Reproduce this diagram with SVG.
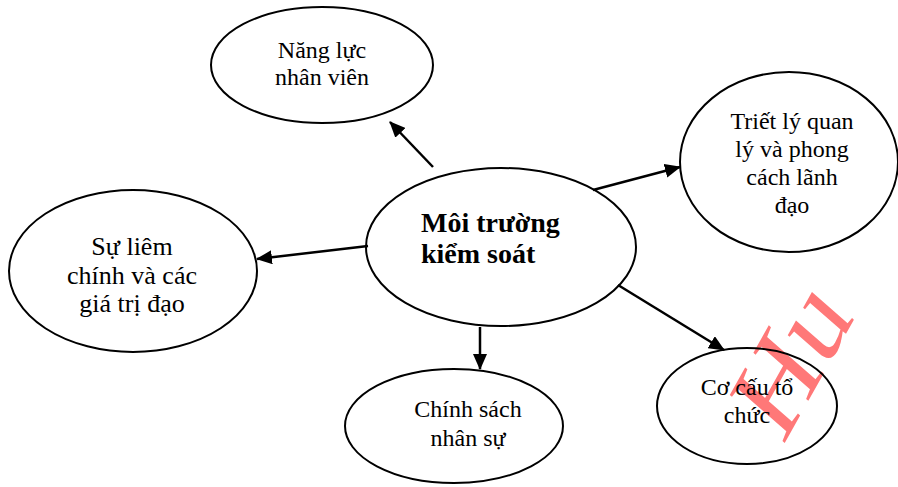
<svg xmlns="http://www.w3.org/2000/svg" width="898" height="487" viewBox="0 0 898 487">
  <style>
    .node ellipse { fill: none; stroke: #000000; stroke-width: 2; }
    .label { font-family: "Liberation Serif", "Times New Roman", serif; font-size: 24px; fill: #000000; text-anchor: middle; }
    .title { font-family: "Liberation Serif", "Times New Roman", serif; font-size: 28px; font-weight: bold; fill: #000000; }
    .edge { stroke: #000000; stroke-width: 2.5; fill: none; marker-end: url(#head); }
    .mark { font-family: "Liberation Serif", "Times New Roman", serif; font-size: 128px; fill: #ff7878; }
  </style>
  <defs>
    <marker id="head" viewBox="0 0 16 14" refX="15" refY="7" markerWidth="16" markerHeight="14" markerUnits="userSpaceOnUse" orient="auto">
      <path d="M0,0 L16,7 L0,14 Z" fill="#000000"/>
    </marker>
  </defs>
  <rect width="898" height="487" fill="#ffffff"/>

  <!-- background stamp, drawn first so outlines and labels stay on top -->
  <text class="mark" transform="translate(783,446) scale(0.8,1) rotate(-55)">Hu</text>

  <g id="nang-luc" class="node">
    <ellipse cx="322" cy="65" rx="111" ry="58"/>
    <text class="label" x="322" y="58">Năng lực</text>
    <text class="label" x="322" y="85">nhân viên</text>
  </g>

  <g id="triet-ly" class="node">
    <ellipse cx="789" cy="162" rx="109" ry="90"/>
    <text class="label" x="792" y="129">Triết lý quan</text>
    <text class="label" x="792" y="157">lý và phong</text>
    <text class="label" x="792" y="185">cách lãnh</text>
    <text class="label" x="792" y="213">đạo</text>
  </g>

  <g id="liem-chinh" class="node">
    <ellipse cx="133" cy="271" rx="124" ry="81"/>
    <text class="label" x="132" y="255" style="font-size:26px">Sự liêm</text>
    <text class="label" x="132" y="284" style="font-size:26px">chính và các</text>
    <text class="label" x="132" y="312" style="font-size:26px">giá trị đạo</text>
  </g>

  <g id="moi-truong" class="node">
    <ellipse cx="501" cy="247" rx="135" ry="79"/>
    <text class="title" x="421" y="232">Môi trường</text>
    <text class="title" x="421" y="263">kiểm soát</text>
  </g>

  <g id="chinh-sach" class="node">
    <ellipse cx="454" cy="426" rx="109" ry="57"/>
    <text class="label" x="468" y="417">Chính sách</text>
    <text class="label" x="468" y="446">nhân sự</text>
  </g>

  <g id="co-cau" class="node">
    <ellipse cx="747" cy="406" rx="90" ry="58"/>
    <text class="label" x="747" y="395">Cơ cấu tổ</text>
    <text class="label" x="747" y="423">chức</text>
  </g>

  <g id="connectors">
    <line class="edge" x1="433" y1="167" x2="390" y2="122"/>
    <line class="edge" x1="593" y1="190" x2="680" y2="167"/>
    <line class="edge" x1="368" y1="246" x2="257" y2="259"/>
    <line class="edge" x1="480" y1="327" x2="480" y2="369"/>
    <line class="edge" x1="618" y1="285" x2="724" y2="350"/>
  </g>
</svg>
